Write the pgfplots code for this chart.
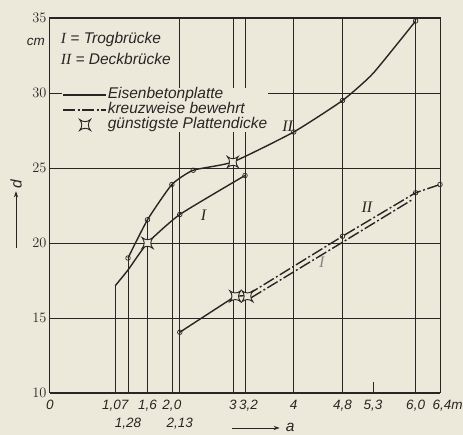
\documentclass[border=0pt]{standalone}
\usepackage{pgfplots}
\pgfplotsset{compat=1.18}
\usepackage{fontspec}
\setmainfont{Liberation Sans}
\newfontfamily\romfont{Liberation Serif}
\usetikzlibrary{arrows.meta}
\definecolor{paper}{RGB}{236,232,218}
\definecolor{ink}{RGB}{40,38,36}
\pagecolor{paper}

\pgfdeclareplotmark{kstar}{%
  \pgfpathmoveto{\pgfpoint{-\pgfplotmarksize}{-\pgfplotmarksize}}%
  \pgfpathquadraticcurveto{\pgfpoint{0pt}{-0.2\pgfplotmarksize}}{\pgfpoint{\pgfplotmarksize}{-\pgfplotmarksize}}%
  \pgfpathquadraticcurveto{\pgfpoint{0.2\pgfplotmarksize}{0pt}}{\pgfpoint{\pgfplotmarksize}{\pgfplotmarksize}}%
  \pgfpathquadraticcurveto{\pgfpoint{0pt}{0.2\pgfplotmarksize}}{\pgfpoint{-\pgfplotmarksize}{\pgfplotmarksize}}%
  \pgfpathquadraticcurveto{\pgfpoint{-0.2\pgfplotmarksize}{0pt}}{\pgfpoint{-\pgfplotmarksize}{-\pgfplotmarksize}}%
  \pgfpathclose
  \pgfusepathqfillstroke
}
\pgfplotsset{
  linelegend/.style={legend image code/.code={\draw[##1] (0pt,0pt) -- (43pt,0pt);}},
  starlegend/.style={legend image code/.code={\draw[only marks,##1] plot coordinates {(22pt,0pt)};}},
}

\newcommand{\lbl}{\itshape\fontsize{13.5}{16}\selectfont}
\newcommand{\txt}{\itshape\fontsize{15.5}{17}\selectfont}

\begin{document}
\begin{tikzpicture}
\begin{axis}[
  at={(0,0)}, anchor=south west,
  scale only axis, width=390pt, height=375pt,
  xmin=0, xmax=6.4, ymin=10, ymax=35,
  clip=false,
  axis line style={ink, line width=1pt},
  major tick length=0pt,
  xtick={0,1.07,1.6,2.0,3,3.2,4,4.8,5.3,6.0,6.4},
  xticklabels={0,{1,07},{1,6},{2,0},3\hspace{9pt},\hspace{7pt}{3,2},4,{4,8},{5,3},{6,0},\hspace{4pt}{6,4\rlap{m}}},
  extra x ticks={1.28,2.13},
  extra x tick labels={{1,28},{2,13}},
  extra x tick style={xticklabel style={yshift=-18pt}},
  ytick={10,15,20,25,30,35},
  ymajorgrids,
  grid style={ink, line width=0.6pt},
  tick label style={font=\lbl, text=ink},
  xticklabel style={yshift=-4pt},
  legend style={at={(axis cs:0.2,30.35)}, anchor=north west, draw=none, fill=paper,
    inner sep=0pt, font=\txt, text=ink, row sep=1pt,
    nodes={inner sep=1pt, text height=10pt, text depth=2pt}},
  legend cell align=left,
]
% legend entries
\addlegendimage{linelegend, ink, line width=1.4pt}
\addlegendentry{Eisenbetonplatte}
\addlegendimage{linelegend, ink, line width=1.4pt, dash pattern=on 12pt off 2.5pt on 2pt off 2.5pt}
\addlegendentry{kreuzweise bewehrt}
\addlegendimage{starlegend, ink, mark=kstar, mark size=5.5pt, mark options={fill=paper, draw=ink, line width=0.9pt}}
\addlegendentry{günstigste Plattendicke}

% vertical grid lines (full and partial)
\draw[ink, line width=0.6pt] (axis cs:2.13,10) -- (axis cs:2.13,35);
\draw[ink, line width=0.6pt] (axis cs:3,10) -- (axis cs:3,35);
\draw[ink, line width=0.6pt] (axis cs:3.2,10) -- (axis cs:3.2,35);
\draw[ink, line width=0.6pt] (axis cs:4,10) -- (axis cs:4,35);
\draw[ink, line width=0.6pt] (axis cs:4.8,10) -- (axis cs:4.8,35);
\draw[ink, line width=0.6pt] (axis cs:6.0,10) -- (axis cs:6.0,35);
\draw[ink, line width=0.6pt] (axis cs:1.07,10) -- (axis cs:1.07,17.15);
\draw[ink, line width=0.6pt] (axis cs:1.28,10) -- (axis cs:1.28,19.0);
\draw[ink, line width=0.6pt] (axis cs:1.6,10) -- (axis cs:1.6,21.55);
\draw[ink, line width=0.6pt] (axis cs:2.0,10) -- (axis cs:2.0,23.9);
\draw[ink, line width=0.6pt] (axis cs:5.3,10) -- (axis cs:5.3,10.7);

% II solid (Deckbruecke, Eisenbetonplatte)
\addplot[forget plot, ink, line width=1.4pt, smooth, tension=0.3] coordinates {
  (1.28,19.0) (1.6,21.55) (2.0,23.9) (2.35,24.85) (3.0,25.4) (4.0,27.4) (4.8,29.5) (5.3,31.3) (6.0,34.8)};
% I solid (Trogbruecke, Eisenbetonplatte)
\addplot[forget plot, ink, line width=1.4pt, smooth, tension=0.3] coordinates {
  (1.07,17.15) (1.28,18.2) (1.6,20.0) (2.13,21.9) (3.2,24.5)};
% kreuzweise bewehrt, common start
\addplot[forget plot, ink, line width=1.4pt] coordinates {
  (2.13,14.05) (3.04,16.45) (3.24,16.5)};
% II kreuzweise
\addplot[forget plot, ink, line width=1.4pt, dash pattern=on 12pt off 2.5pt on 2pt off 2.5pt] coordinates {
  (3.24,16.55) (4.8,20.45) (6.0,23.35) (6.4,23.9)};
% I kreuzweise
\addplot[forget plot, ink, line width=1.4pt, dash pattern=on 12pt off 2.5pt on 2pt off 2.5pt] coordinates {
  (3.3,16.35) (4.8,20.05) (5.95,22.9)};

% circles
\addplot[forget plot, only marks, mark=o, mark size=2.3pt, mark options={fill=paper, draw=ink, line width=0.7pt}] coordinates {
  (1.28,19.0) (1.6,21.55) (2.0,23.9) (2.35,24.85) (4.0,27.4) (4.8,29.5) (6.0,34.8)
  (2.13,21.9) (3.2,24.5)
  (2.13,14.05) (4.8,20.45) (6.0,23.35) (6.4,23.9)};
% stars
\addplot[forget plot, only marks, mark=kstar, mark size=5.5pt, mark options={fill=paper, draw=ink, line width=0.9pt}] coordinates {
  (1.6,20.0) (3.0,25.4) (3.04,16.45) (3.24,16.45)};

% curve labels
\node[font=\fontsize{16}{18}\selectfont\romfont\itshape, text=ink, fill=paper, inner sep=0.5pt] at (axis cs:3.9,27.75) {II};
\node[font=\fontsize{16}{18}\selectfont\romfont\itshape, text=ink] at (axis cs:2.52,21.85) {I};
\node[font=\fontsize{16}{18}\selectfont\romfont\itshape, text=ink] at (axis cs:5.2,22.35) {II};
\node[font=\fontsize{16}{18}\selectfont\romfont\itshape, text=ink!55] at (axis cs:4.46,18.7) {I};

% header text
\node[anchor=west, font=\txt, text=ink, fill=paper, inner sep=1pt] at (axis cs:0.16,33.55)
  {{\romfont I} = Trogbrücke};
\node[anchor=west, font=\txt, text=ink, fill=paper, inner sep=1pt] at (axis cs:0.16,32.28)
  {{\romfont II} = Deckbrücke};
\node[anchor=east, font=\lbl, text=ink, inner sep=0pt] at ([xshift=-5pt]axis cs:0,33.4) {cm};

% axis descriptions
\draw[ink, line width=0.9pt, -{Stealth[length=6pt,width=4pt]}]
  ([xshift=-34pt]axis cs:0,19.65) -- ([xshift=-34pt]axis cs:0,23.45);
\node[rotate=90, font=\txt, text=ink, inner sep=0pt] at ([xshift=-34pt]axis cs:0,23.95) {d};
\draw[ink, line width=0.9pt, -{Stealth[length=6pt,width=4pt]}]
  ([yshift=-35pt]axis cs:2.98,10) -- ([yshift=-35pt]axis cs:3.77,10);
\node[font=\txt, text=ink, inner sep=0pt] at ([yshift=-34pt]axis cs:3.94,10) {a};
\end{axis}
\pgfresetboundingbox
\path[use as bounding box] (-50pt,-42pt) rectangle (413pt,393pt);
\end{tikzpicture}
\end{document}
